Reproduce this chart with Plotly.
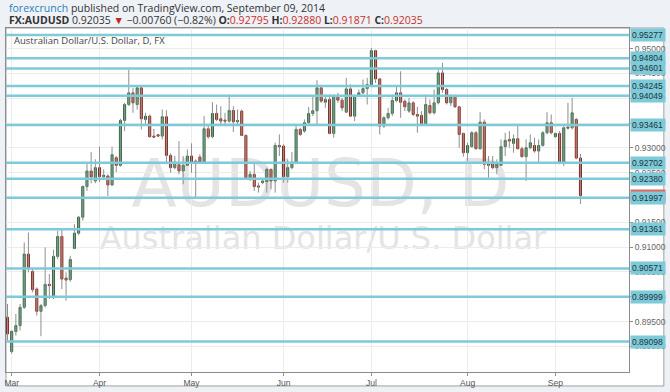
import pandas as pd
import plotly.graph_objects as go

# ---------------- data ----------------
dates = [d.strftime("%Y-%m-%d") for d in pd.bdate_range("2014-02-28", "2014-09-09")]

opens = [
    0.89587, 0.88896, 0.89298, 0.89419, 0.89787, 0.90860, 0.90511, 0.90156, 0.89707, 0.89821,
    0.90250, 0.89989, 0.90813, 0.91215, 0.90377, 0.90344, 0.90973, 0.91282, 0.91603, 0.92220,
    0.92535, 0.92334, 0.92602, 0.92421, 0.92434, 0.92253, 0.92802, 0.92648, 0.93553, 0.93874,
    0.94109, 0.93874, 0.94210, 0.93573, 0.93640, 0.93238, 0.93265, 0.93238, 0.93627, 0.92849,
    0.92602, 0.92662, 0.92535, 0.92648, 0.92836, 0.92702, 0.92816, 0.92702, 0.93385, 0.93225,
    0.93694, 0.93586, 0.93560, 0.93540, 0.93754, 0.93526, 0.93741, 0.93251, 0.92380, 0.92467,
    0.92233, 0.92300, 0.92320, 0.92568, 0.92333, 0.93050, 0.93037, 0.92421, 0.92602, 0.92715,
    0.93372, 0.93338, 0.93506, 0.93694, 0.93747, 0.94210, 0.93921, 0.93975, 0.93292, 0.94055,
    0.93962, 0.93720, 0.94189, 0.93640, 0.94055, 0.94109, 0.94196, 0.94277, 0.94960, 0.94390,
    0.93439, 0.93607, 0.93694, 0.93955, 0.94109, 0.93942, 0.93741, 0.93908, 0.93674, 0.93654,
    0.93493, 0.93854, 0.93707, 0.93908, 0.94511, 0.94176, 0.93908, 0.94042, 0.93828, 0.93292,
    0.92903, 0.93025, 0.93305, 0.92983, 0.93519, 0.92648, 0.92715, 0.92602, 0.92648, 0.93025,
    0.93171, 0.93091, 0.93184, 0.92983, 0.92823, 0.93004, 0.93050, 0.92937, 0.93050, 0.93305,
    0.93506, 0.93225, 0.93292, 0.92702, 0.93419, 0.93406, 0.93573, 0.92795,
]
highs = [
    0.89855, 0.89319, 0.89654, 0.89855, 0.91094, 0.91295, 0.90571, 0.90190, 0.89855, 0.90994,
    0.90458, 0.90947, 0.91329, 0.91362, 0.90491, 0.90826, 0.91463, 0.91630, 0.92246, 0.92702,
    0.92916, 0.92769, 0.93024, 0.92568, 0.92468, 0.93024, 0.92836, 0.93586, 0.93908, 0.94578,
    0.94210, 0.94243, 0.94230, 0.93707, 0.93674, 0.93385, 0.93278, 0.93774, 0.93761, 0.92890,
    0.92836, 0.93138, 0.92836, 0.92970, 0.93091, 0.92769, 0.92870, 0.93640, 0.93473, 0.93921,
    0.93874, 0.93841, 0.93707, 0.94076, 0.93841, 0.93774, 0.93774, 0.93272, 0.92535, 0.92702,
    0.92300, 0.92380, 0.92602, 0.92581, 0.93104, 0.93271, 0.93071, 0.92769, 0.92918, 0.93439,
    0.93406, 0.93573, 0.93828, 0.94029, 0.94364, 0.94243, 0.94076, 0.94076, 0.94076, 0.94109,
    0.94009, 0.94411, 0.94277, 0.94076, 0.94176, 0.94377, 0.94411, 0.95014, 0.94980, 0.94411,
    0.93640, 0.93808, 0.94076, 0.94243, 0.94545, 0.93975, 0.94009, 0.93942, 0.93828, 0.93741,
    0.94076, 0.93975, 0.94176, 0.94578, 0.94712, 0.94210, 0.94076, 0.94076, 0.93841, 0.93305,
    0.93104, 0.93339, 0.93339, 0.93720, 0.93573, 0.92836, 0.92836, 0.92769, 0.93171, 0.93305,
    0.93339, 0.93272, 0.93439, 0.93025, 0.93171, 0.93272, 0.93205, 0.93171, 0.93339, 0.93720,
    0.93674, 0.93305, 0.93339, 0.93439, 0.93908, 0.94009, 0.93606, 0.92880,
]
lows = [
    0.89118, 0.88850, 0.89218, 0.89319, 0.89754, 0.90491, 0.90089, 0.89620, 0.89205, 0.89787,
    0.89955, 0.89955, 0.90759, 0.90156, 0.89922, 0.90303, 0.90960, 0.91241, 0.91530, 0.92133,
    0.92287, 0.92287, 0.92313, 0.92367, 0.92032, 0.92233, 0.92514, 0.92622, 0.93338, 0.93841,
    0.93707, 0.93774, 0.93372, 0.93473, 0.93205, 0.93205, 0.93225, 0.93171, 0.92669, 0.92501,
    0.92568, 0.92468, 0.92267, 0.92635, 0.92501, 0.91999, 0.92689, 0.92689, 0.93184, 0.93198,
    0.93540, 0.93473, 0.93439, 0.93506, 0.93318, 0.93439, 0.93238, 0.92367, 0.92333, 0.92132,
    0.92099, 0.92267, 0.92099, 0.92166, 0.92099, 0.92836, 0.92300, 0.92300, 0.92568, 0.92702,
    0.93238, 0.93305, 0.93493, 0.93640, 0.93473, 0.93908, 0.93808, 0.93271, 0.93205, 0.93908,
    0.93741, 0.93707, 0.93627, 0.93540, 0.94029, 0.94076, 0.93875, 0.94243, 0.94310, 0.93271,
    0.93406, 0.93573, 0.93640, 0.93921, 0.93607, 0.93741, 0.93707, 0.93640, 0.93305, 0.93473,
    0.93473, 0.93674, 0.93674, 0.93875, 0.94109, 0.93875, 0.93841, 0.93808, 0.93004, 0.92823,
    0.92736, 0.93004, 0.92970, 0.92970, 0.92568, 0.92400, 0.92568, 0.92468, 0.92635, 0.92836,
    0.93004, 0.92903, 0.92970, 0.92803, 0.92334, 0.92970, 0.92903, 0.92702, 0.93025, 0.93272,
    0.93272, 0.93205, 0.92669, 0.92635, 0.93372, 0.93372, 0.92769, 0.91871,
]
closes = [
    0.89252, 0.89305, 0.89419, 0.89787, 0.90860, 0.90571, 0.90143, 0.89707, 0.89821, 0.90250,
    0.90223, 0.90813, 0.91215, 0.90357, 0.90337, 0.90752, 0.91282, 0.91603, 0.92220, 0.92535,
    0.92414, 0.92602, 0.92421, 0.92447, 0.92253, 0.92863, 0.92648, 0.93553, 0.93874, 0.94109,
    0.93908, 0.94210, 0.93586, 0.93640, 0.93225, 0.93218, 0.93238, 0.93627, 0.92849, 0.92602,
    0.92715, 0.92535, 0.92648, 0.92836, 0.92702, 0.92736, 0.92702, 0.93385, 0.93225, 0.93694,
    0.93573, 0.93540, 0.93540, 0.93754, 0.93526, 0.93553, 0.93251, 0.92380, 0.92467, 0.92220,
    0.92213, 0.92333, 0.92568, 0.92333, 0.93050, 0.93024, 0.92421, 0.92602, 0.92715, 0.93372,
    0.93271, 0.93506, 0.93694, 0.93747, 0.94210, 0.93942, 0.93975, 0.93292, 0.94055, 0.93962,
    0.93808, 0.94189, 0.93640, 0.94055, 0.94109, 0.94196, 0.94277, 0.94960, 0.94390, 0.93439,
    0.93607, 0.93694, 0.93955, 0.94109, 0.93921, 0.93828, 0.93908, 0.93674, 0.93640, 0.93493,
    0.93875, 0.93707, 0.93908, 0.94511, 0.94176, 0.93908, 0.94042, 0.93828, 0.93271, 0.92903,
    0.93050, 0.93305, 0.92983, 0.93519, 0.92669, 0.92702, 0.92602, 0.92669, 0.93025, 0.93151,
    0.93138, 0.93184, 0.92983, 0.92823, 0.93004, 0.93104, 0.92937, 0.93050, 0.93305, 0.93506,
    0.93305, 0.93292, 0.92702, 0.93406, 0.93399, 0.93707, 0.92795, 0.92035,
]

levels = [0.95277, 0.94804, 0.94601, 0.94245, 0.94049, 0.93461, 0.92702,
          0.92380, 0.91997, 0.91361, 0.90571, 0.89999, 0.89098]

month_ticks = ["2014-03-03", "2014-04-01", "2014-05-01", "2014-06-02",
               "2014-07-01", "2014-08-01", "2014-09-01"]
month_labels = ["Mar", "Apr", "May", "Jun", "Jul", "Aug", "Sep"]
price_ticks = [0.890, 0.895, 0.900, 0.905, 0.910, 0.915, 0.920, 0.925,
               0.930, 0.935, 0.940, 0.945, 0.950]

last_close = closes[-1]

# ---------------- figure ----------------
W, H = 670, 392
L, R, T, B = 4, 40, 28, 19
PW, PH = W - L - R, H - T - B


def px(x):
    return (x - L) / PW


def py(y):
    return (H - B - y) / PH


TEAL = "#7ecad8"
fig = go.Figure()

# wicks
wx, wy = [], []
for d, lo, hi in zip(dates, lows, highs):
    wx += [d, d, None]
    wy += [lo, hi, None]
fig.add_trace(go.Scatter(x=wx, y=wy, mode="lines", line=dict(color="#8e8e8e", width=1),
                         hoverinfo="skip", showlegend=False))

# bodies
body_hi = [max(o, c) for o, c in zip(opens, closes)]
body_lo = [min(o, c) for o, c in zip(opens, closes)]
fig.add_trace(go.Candlestick(
    x=dates, open=opens, high=body_hi, low=body_lo, close=closes,
    increasing=dict(fillcolor="#5f9f72", line=dict(color="#2f6a44", width=1)),
    decreasing=dict(fillcolor="#d9533f", line=dict(color="#8e2a1c", width=1)),
    whiskerwidth=0, showlegend=False,
))

shapes = [
    # white chart panel
    dict(type="rect", xref="paper", yref="paper", x0=0, x1=px(665), y0=py(387), y1=1,
         fillcolor="white", line=dict(color="#a0a0a0", width=1), layer="below"),
    # watermark
    dict(type="rect", xref="paper", yref="paper", x0=px(100), x1=px(540), y0=py(208), y1=py(150),
         line=dict(width=0), layer="below",
         label=dict(text="AUDUSD, D", textposition="middle center",
                    font=dict(family="DejaVu Sans", size=66, color="#e4e4e4"))),
    dict(type="rect", xref="paper", yref="paper", x0=px(80), x1=px(565), y0=py(252), y1=py(222),
         line=dict(width=0), layer="below",
         label=dict(text="Australian Dollar/U.S. Dollar", textposition="middle center",
                    font=dict(family="DejaVu Sans", size=32, color="#e4e4e4"))),
]
for v in levels:
    shapes.append(dict(type="line", xref="paper", yref="y", x0=0, x1=1, y0=v, y1=v,
                       line=dict(color=TEAL, width=2.5), layer="above"))

annotations = [
    dict(xref="paper", yref="paper", x=px(5), y=py(8), xanchor="left", yanchor="middle",
         showarrow=False, font=dict(family="Open Sans", size=10.5, color="#333"),
         text='<span style="color:#2a7fb8">forexcrunch</span> published on TradingView.com, September 09, 2014'),
    dict(xref="paper", yref="paper", x=px(5), y=py(19.5), xanchor="left", yanchor="middle",
         showarrow=False, font=dict(family="Open Sans", size=10.5, color="#333"),
         text=('<b>FX:AUDUSD</b> 0.92035 <span style="color:#c0271d">▼</span> \u22120.00760 (\u22120.82%) '
               '<b>O:</b><span style="color:#c8302a">0.92795</span> '
               '<b>H:</b><span style="color:#c8302a">0.92880</span> '
               '<b>L:</b><span style="color:#c8302a">0.91871</span> '
               '<b>C:</b><span style="color:#c8302a">0.92035</span>')),
    dict(xref="paper", yref="paper", x=px(10), y=py(41), xanchor="left", yanchor="middle",
         showarrow=False, font=dict(family="Open Sans", size=9.5, color="#444"),
         text="Australian Dollar/U.S. Dollar, D, FX"),
    # last price marker (mostly hidden)
    dict(xref="paper", yref="y", x=1, y=last_close, xanchor="left", yanchor="middle", xshift=1,
         showarrow=False, bgcolor="#e2685a", width=32, height=10, borderpad=1, align="left",
         font=dict(family="Liberation Sans", size=8.5, color="white"), text=f"{last_close:.5f}"),
]
for v in levels:
    annotations.append(dict(xref="paper", yref="y", x=1, y=v, xanchor="left", yanchor="middle",
                            xshift=1, showarrow=False, bgcolor=TEAL, width=32, height=10,
                            borderpad=1, align="left",
                            font=dict(family="Liberation Sans", size=8.5, color="#203540"),
                            text=f"{v:.5f}"))

fig.update_layout(
    width=W, height=H, margin=dict(l=L, r=R, t=T, b=B, pad=0),
    paper_bgcolor="#eef1f5", plot_bgcolor="white",
    showlegend=False, shapes=shapes, annotations=annotations,
    xaxis=dict(type="category", range=[-0.36, 148.6], rangeslider=dict(visible=False),
               tickmode="array", tickvals=month_ticks, ticktext=month_labels,
               showgrid=True, gridcolor="#ececec", gridwidth=1,
               showline=True, linecolor="#8c8c8c", linewidth=1, mirror=True,
               ticks="outside", ticklen=3, tickcolor="#8c8c8c",
               tickfont=dict(family="Liberation Sans", size=8.5, color="#555"),
               zeroline=False),
    yaxis=dict(side="right", range=[0.88484, 0.95416], tickmode="array",
               tickvals=price_ticks, ticktext=[f"{t:.5f}" for t in price_ticks],
               showgrid=True, gridcolor="#ececec", gridwidth=1,
               showline=True, linecolor="#8c8c8c", linewidth=1, mirror=True,
               ticks="outside", ticklen=3, tickcolor="#8c8c8c",
               tickfont=dict(family="Liberation Sans", size=8.5, color="#666"),
               zeroline=False),
)

fig.write_html("out.html")
